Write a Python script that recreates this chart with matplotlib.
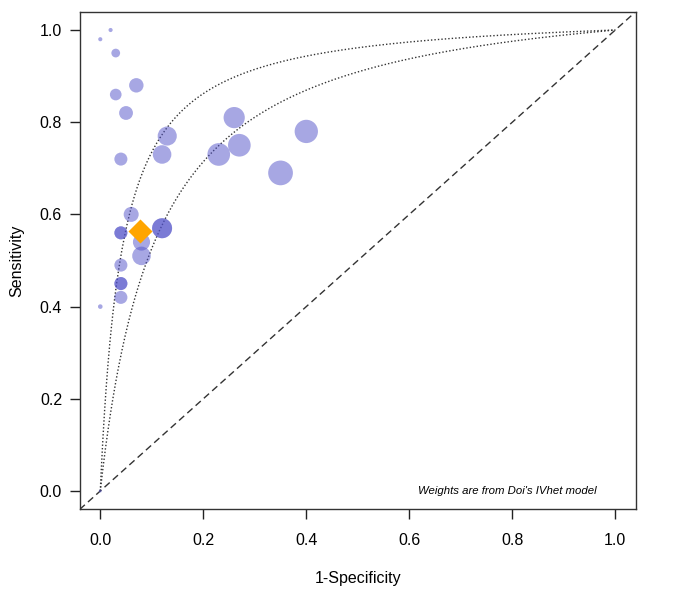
import matplotlib
matplotlib.use("Agg")
import matplotlib.pyplot as plt
import numpy as np

plt.rcParams["font.family"] = ["Liberation Sans", "DejaVu Sans"]

# study level points (1-specificity, sensitivity, weight ~ marker area)
fpr = [0.02, 0.00, 0.03, 0.07, 0.03, 0.05, 0.13, 0.12, 0.04,
       0.26, 0.27, 0.23, 0.40, 0.35,
       0.06, 0.04, 0.04, 0.12, 0.12, 0.08, 0.08, 0.04, 0.04, 0.04, 0.04, 0.00, 0.00]
sens = [1.00, 0.98, 0.95, 0.88, 0.86, 0.82, 0.77, 0.73, 0.72,
        0.81, 0.75, 0.73, 0.78, 0.69,
        0.60, 0.56, 0.56, 0.57, 0.57, 0.54, 0.51, 0.49, 0.45, 0.45, 0.42, 0.40, 0.00]
weight = [4, 4, 18, 49, 32, 45, 86, 81, 40,
          106, 121, 121, 128, 144,
          53, 40, 40, 94, 94, 69, 81, 40, 40, 40, 40, 5, 2]

# pooled estimate and SROC bounds (diagnostic odds ratio)
pooled_fpr = 0.077
pooled_sens = 0.565
dor_lower = 10.0
dor_upper = 25.0

ticks = [0.0, 0.2, 0.4, 0.6, 0.8, 1.0]
note = "Weights are from Doi's IVhet model"


def sroc(x, dor):
    odds = dor * x / (1 - x)
    return odds / (1 + odds)


fig = plt.figure(figsize=(6.77, 6.09), dpi=100)
ax = fig.add_axes([0.1177, 0.1635, 0.8216, 0.8175])

ax.axline((0, 0), (1, 1), color="#333333", lw=1, linestyle=(0, (5, 3)))

xs = np.linspace(1e-5, 1 - 1e-5, 600)
for dor in (dor_lower, dor_upper):
    ax.plot(np.r_[0, xs, 1], np.r_[0, sroc(xs, dor), 1], color="#333333",
            lw=1, linestyle=(0, (1, 1.5)))

ax.scatter(fpr, sens, s=np.array(weight) * 2.2, color="#5050c8", alpha=0.5,
           linewidths=0, zorder=3)
ax.scatter([pooled_fpr], [pooled_sens], marker="D", s=150, color="#ffa500",
           linewidths=0, zorder=4)

ax.text(0.79, 0.0, note, style="italic", fontsize=8.2, ha="center", va="center")

ax.set_xlim(-0.04, 1.04)
ax.set_ylim(-0.04, 1.04)
ax.set_xticks(ticks)
ax.set_yticks(ticks)
ax.set_xticklabels([f"{t:.1f}" for t in ticks])
ax.set_yticklabels([f"{t:.1f}" for t in ticks])
ax.tick_params(direction="out", length=7.2, width=1, labelsize=11.5, color="#222222")
ax.tick_params(axis="x", pad=9.5)
ax.tick_params(axis="y", pad=5.5)
for sp in ax.spines.values():
    sp.set_color("#333333")
    sp.set_linewidth(1)

ax.set_xlabel("1-Specificity", fontsize=11.5, labelpad=17)
ax.set_ylabel("Sensitivity", fontsize=11.5, labelpad=11)

fig.savefig("out.png", dpi=100)
